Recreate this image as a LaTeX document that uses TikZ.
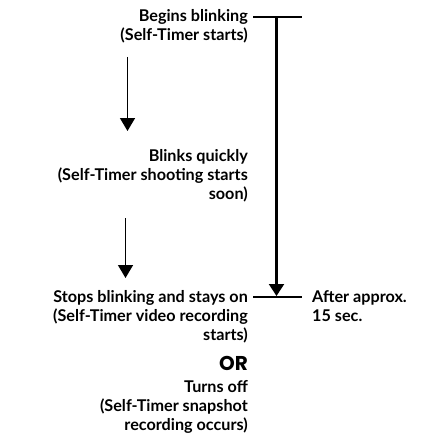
\documentclass[tikz,border=0pt]{standalone}
\usepackage{fontspec}
\setmainfont{Lato}
\newfontfamily\orfont{Poppins}
\usetikzlibrary{arrows.meta}
\tikzset{
  lbl/.style={inner sep=0pt, align=right, font=\fontsize{16.2}{19}\selectfont\bfseries},
  lblL/.style={inner sep=0pt, align=left, font=\fontsize{16.2}{19}\selectfont\bfseries},
  smallarrow/.style={line width=1.5pt, -{Triangle[width=15pt,length=13pt]}},
  bigarrow/.style={line width=2.2pt, -{Triangle[width=15pt,length=12pt]}},
  bar/.style={line width=2.2pt}
}
\begin{document}
\begin{tikzpicture}[x=1pt,y=1pt]
\useasboundingbox (0,0) rectangle (432,-444);
\node[lbl, anchor=north east] (b1) at (248,-9) {Begins blinking\\(Self-Timer starts)};
\node[lbl, anchor=north east] (b2) at (248,-149) {Blinks quickly\\(Self-Timer shooting starts\\soon)};
\node[lbl, anchor=north east] (b3) at (248,-290) {Stops blinking and stays on\\(Self-Timer video recording\\starts)};
\node[inner sep=0pt, anchor=north east, font=\orfont\fontsize{20}{20}\selectfont\bfseries] (or) at (248,-356) {OR};
\node[lbl, anchor=north east] (b4) at (248,-380) {Turns off\\(Self-Timer snapshot\\recording occurs)};
\node[lblL, anchor=north west] (after) at (312,-290) {After approx.\\15 sec.};
\coordinate (a1s) at (127.5,-57);
\coordinate (a1e) at (127.5,-131);
\coordinate (a2s) at (125.5,-218);
\coordinate (a2e) at (125.5,-278);
\coordinate (t1) at (253,-17);
\coordinate (t2) at (302,-17);
\coordinate (v1) at (276.5,-17);
\coordinate (v2) at (276.5,-296);
\coordinate (h1) at (253,-297);
\coordinate (h2) at (302,-297);
\draw[smallarrow] (a1s) -- (a1e);
\draw[smallarrow] (a2s) -- (a2e);
\draw[bar] (t1) -- (t2);
\draw[bigarrow] (v1) -- (v2);
\draw[bar] (h1) -- (h2);
\end{tikzpicture}
\end{document}
